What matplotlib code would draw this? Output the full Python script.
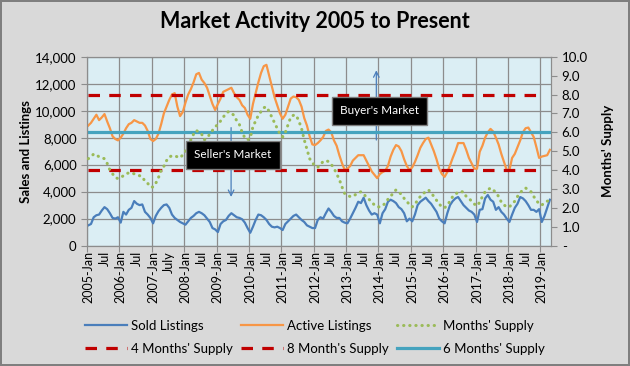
import numpy as np
import matplotlib.pyplot as plt
from matplotlib.ticker import FuncFormatter

plt.rcParams['font.family'] = ['Lato', 'DejaVu Sans']

# monthly data, 2005-Jan .. 2019-Apr
sold = [
    1500, 1600, 2100, 2250, 2300, 2600, 2850, 2700, 2400, 2050, 2000, 2100,
    1700, 2500, 2300, 2650, 2800, 3300, 3100, 3000, 3050, 2500, 2300, 2050,
    1650, 2200, 2550, 2800, 3000, 3050, 2800, 2300, 2050, 1900, 1750, 1650,
    1550, 1800, 2050, 2200, 2400, 2500, 2400, 2250, 2000, 1750, 1300, 1200,
    1000, 1600, 1800, 1900, 2200, 2400, 2250, 2100, 2050, 1950, 1700, 1300,
    950, 1400, 1900, 2300, 2250, 2100, 1900, 1600, 1400, 1350, 1400, 1300,
    1150, 1600, 1800, 2000, 2200, 2300, 2100, 1900, 1750, 1500, 1400, 1300,
    1300, 1900, 2100, 2000, 2400, 2750, 2500, 2200, 2050, 2050, 1800, 1700,
    1650, 2000, 2400, 2800, 3250, 3150, 3550, 3000, 2600, 2300, 2400, 2300,
    1650, 2400, 2700, 3250, 3400, 3300, 3150, 2850, 2700, 2400, 1800, 2000,
    1800, 2300, 3000, 3250, 3400, 3550, 3300, 3100, 2800, 2500, 2000, 1800,
    1650, 2400, 3000, 3300, 3500, 3600, 3300, 3000, 2800, 2600, 2500, 2300,
    1750, 2650, 2700, 3500, 3750, 3400, 3250, 2650, 2850, 2500, 2300, 2000,
    1750, 2300, 2800, 3100, 3600, 3500, 3300, 3000, 2650, 2650, 2500, 2700,
    1750, 2200, 2800, 3400,
]
active = [
    8900, 9100, 9400, 9700, 9300, 9500, 9750, 9200, 8700, 8100, 7900, 7800,
    8000, 8300, 8700, 9000, 9100, 9300, 9200, 9100, 9100, 8900, 8500, 7900,
    7750, 7900, 8300, 9000, 9800, 10300, 10800, 11200, 11300, 10300, 9600, 9900,
    10600, 11200, 11600, 12100, 12700, 12800, 12300, 12050, 11700, 11100, 10500, 10050,
    10500, 10900, 11400, 11500, 11600, 11700, 11300, 11000, 10800, 10400, 10200, 9700,
    9400, 10500, 11300, 12100, 12800, 13300, 13400, 12600, 11800, 11000, 10400, 9800,
    9400, 9700, 10300, 10900, 11050, 11000, 10800, 10300, 9450, 8900, 8100, 7500,
    7450, 7600, 7800, 8050, 8500, 8600, 8400, 7800, 7400, 6700, 6100, 5600,
    5700, 5900, 6300, 6500, 6700, 6700, 6700, 6300, 5900, 5500, 5250, 5000,
    5300, 5450, 5550, 5900, 6600, 7100, 7450, 7350, 7000, 6400, 5900, 5600,
    5800, 6200, 6700, 7250, 7600, 7900, 8000, 7500, 7000, 6400, 5700, 5300,
    5100, 5450, 5950, 6500, 7000, 7600, 7600, 7600, 7100, 6500, 6100, 5700,
    5700, 6950, 7400, 8000, 8400, 8650, 8450, 8000, 7500, 6800, 6200, 5600,
    5600, 6500, 6800, 7300, 7800, 8400, 8700, 8750, 8400, 8050, 7300, 6500,
    6600, 6650, 6700, 7100,
]
supply = [
    4.6, 4.7, 4.85, 4.8, 4.7, 4.65, 4.6, 4.35, 4.0, 3.8, 3.6, 3.55,
    3.6, 3.7, 3.8, 3.85, 3.85, 3.8, 3.75, 3.7, 3.65, 3.4, 3.3, 3.1,
    3.1, 3.3, 3.6, 4.0, 4.2, 4.5, 4.7, 4.75, 4.75, 4.7, 4.65, 4.8,
    5.0, 5.3, 5.6, 5.9, 6.1, 6.0, 5.9, 5.6, 5.7, 5.9, 6.1, 6.3,
    6.4, 6.6, 6.8, 7.0, 7.1, 7.0, 6.9, 6.6, 6.4, 6.0, 5.7, 5.6,
    5.7, 6.3, 6.6, 6.9, 7.1, 7.3, 7.35, 7.1, 6.8, 6.5, 6.2, 5.9,
    5.75, 6.0, 6.4, 6.8, 6.9, 6.9, 6.6, 6.2, 5.6, 5.1, 4.6, 4.4,
    4.2, 4.15, 4.3, 4.45, 4.5, 4.45, 4.3, 4.1, 3.8, 3.5, 3.1, 2.75,
    2.65, 2.6, 2.6, 2.7, 2.8, 2.85, 2.75, 2.55, 2.45, 2.3, 2.15, 2.05,
    2.05, 2.1, 2.25, 2.45, 2.6, 2.8, 2.95, 2.85, 2.7, 2.5, 2.35, 2.15,
    2.05, 2.2, 2.4, 2.6, 2.75, 2.85, 2.95, 2.8, 2.6, 2.4, 2.2, 2.05,
    2.0, 2.15, 2.35, 2.6, 2.7, 2.85, 2.85, 2.85, 2.6, 2.5, 2.35, 2.2,
    2.1, 2.3, 2.6, 2.85, 2.95, 3.05, 2.95, 2.8, 2.6, 2.3, 2.15, 2.05,
    2.05, 2.2, 2.35, 2.6, 2.8, 2.95, 3.05, 2.95, 2.85, 2.6, 2.4, 2.2,
    2.15, 2.25, 2.35, 2.4,
]
ref_levels = [4, 8, 6]
ref_names = ["4 Months' Supply", "8 Month's Supply", "6 Months' Supply"]

tick_labels = []
for yr in range(2005, 2020):
    tick_labels.append(f"{yr}-Jan")
    if yr < 2019:
        tick_labels.append("July" if yr == 2007 else "Jul")

n = len(sold)
x = np.arange(n)

fig = plt.figure(figsize=(6.3, 3.66), dpi=100, facecolor='#D9D9D9',
                 edgecolor='#7F7F7F', linewidth=1.5)
ax = fig.add_axes([0.138, 0.329, 0.737, 0.516])
ax2 = ax.twinx()
ax.set_facecolor('#DBEEF4')

grid_c = '#8C8C8C'
ax.plot(x, sold, color='#4A7EBB', lw=1.6, label='Sold Listings', zorder=3)
ax.plot(x, active, color='#F79646', lw=1.6, label='Active Listings', zorder=3)

ax.set_xlim(-0.5, n - 0.5)
ax.set_ylim(0, 14000)
ax.set_yticks(np.arange(0, 14001, 2000))
ax.yaxis.set_major_formatter(FuncFormatter(lambda v, p: f"{int(v):,}"))
ax.set_xticks(np.arange(-0.5, n, 12))
ax.set_xticklabels([])
ax.set_xticks(np.arange(0, 169, 6), minor=True)
ax.set_xticklabels(tick_labels, minor=True, rotation=90, fontsize=9)
ax.tick_params(axis='x', which='major', length=4, color=grid_c)
ax.tick_params(axis='x', which='minor', length=0, pad=4)
ax.tick_params(axis='y', length=4, color=grid_c, labelsize=9.5)
ax.grid(True, which='major', color=grid_c, lw=0.9)
ax.set_axisbelow(True)
ax.set_ylabel('Sales and Listings', fontsize=9.5, fontweight='bold', labelpad=2)

red1, = ax2.plot(x[:169], [ref_levels[0]] * 169, color='#C00000', lw=2.3,
                 linestyle=(0, (3.6, 2.9)), label=ref_names[0], zorder=2)
red2, = ax2.plot(x[:169], [ref_levels[1]] * 169, color='#C00000', lw=2.3,
                 linestyle=(0, (3.6, 2.9)), label=ref_names[1], zorder=2)
teal, = ax2.plot(x, [ref_levels[2]] * n, color='#45A3BE', lw=2.3,
                 label=ref_names[2], zorder=2)
green, = ax2.plot(x, supply, color='#9BBB59', lw=2.2, linestyle=(0, (0.1, 1.9)),
                  dash_capstyle='round', label="Months' Supply", zorder=3)
ax2.set_ylim(0, 10)
ax2.set_yticks(np.arange(0, 10.1, 1))
ax2.yaxis.set_major_formatter(FuncFormatter(lambda v, p: '-' if v == 0 else f"{v:.1f}"))
ax2.tick_params(axis='y', length=4, color=grid_c, labelsize=9.5)
ax2.set_ylabel("Months' Supply", fontsize=9.5, fontweight='bold', labelpad=10)

for a in (ax, ax2):
    for s in a.spines.values():
        s.set_color(grid_c)

# annotations
arrow_kw = dict(arrowstyle='->', color='#4A7EBB', lw=0.9)
ax.annotate('', xy=(52.9, 3400), xytext=(52.9, 8950), arrowprops=arrow_kw, zorder=4)
ax.annotate('', xy=(106.7, 13200), xytext=(106.7, 7620), arrowprops=arrow_kw, zorder=4)
box = dict(boxstyle='square,pad=0.7', fc='black', ec='#7F7F7F', lw=1)
ax2.text(53.6, 4.8, "Seller's Market", color='white', fontsize=8.5,
         ha='center', va='center', bbox=box, zorder=6)
ax2.text(107.8, 7.14, "Buyer's Market", color='white', fontsize=8.5,
         ha='center', va='center', bbox=box, zorder=6)

fig.text(0.5, 0.94, 'Market Activity 2005 to Present', ha='center', va='center',
         fontsize=15.5, fontweight='bold')

h = ax.get_lines()[:2]
handles = [h[0], red1, h[1], red2, green, teal]
fig.legend(handles=handles, labels=[hh.get_label() for hh in handles],
           ncol=3, loc='center', bbox_to_anchor=(0.5, 0.078), frameon=False,
           fontsize=9.5, handlelength=3.2, columnspacing=0.6, handletextpad=0.3,
           labelspacing=0.85)

fig.savefig('out.png', dpi=100, facecolor=fig.get_facecolor(),
            edgecolor=fig.get_edgecolor())
